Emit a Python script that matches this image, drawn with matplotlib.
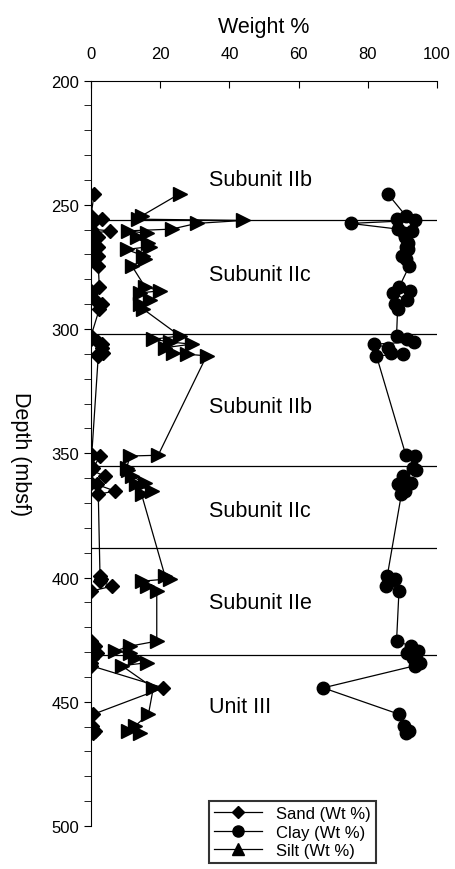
import matplotlib
matplotlib.use('Agg')
from matplotlib import pyplot as plt
from matplotlib.lines import Line2D
from matplotlib.ticker import MultipleLocator

plt.rcParams['font.family'] = ['Liberation Sans', 'DejaVu Sans']

# depth of each sample (mbsf)
depth = [245.5,
         254.5, 255.8, 256.3, 257.5, 259.8, 260.5, 261.5, 263.0, 265.2, 266.8, 268.0, 270.5, 272.0, 274.6,
         283.0, 284.6, 285.5, 288.3, 290.0, 292.0,
         302.8, 304.1, 305.2, 306.1, 307.5, 309.5, 310.1, 310.8,
         350.8, 351.1, 355.8, 356.8, 359.2, 362.1, 362.5, 365.2, 366.5,
         399.5, 400.5, 401.5, 403.5, 405.5,
         425.6, 427.6, 429.6, 430.5, 432.3, 434.3, 435.5,
         444.4, 455.0, 459.8, 461.8, 462.5]

sand = [0.9,
        0.0, 3.1, 0.0, 0.3, 0.0, 5.5, 0.3, 2.1, 0.0, 1.9, 0.0, 2.1, 0.0, 2.1,
        2.4, 0.0, 0.0, 1.2, 3.1, 2.4,
        0.0, 0.0, 1.9, 3.1, 3.1, 3.6, 2.1, 2.1,
        0.2, 2.6, 0.7, 0.0, 4.0, 0.0, 1.6, 6.9, 2.1,
        2.6, 3.0, 2.6, 6.0, 0.0,
        0.0, 1.2, 0.2, 1.6, 0.3, 0.0, 0.0,
        20.9, 0.7, 0.2, 1.2, 0.5]

clay = [85.7,
        91.0, 88.3, 93.6, 75.0, 88.8, 92.7, 90.5, 90.8, 91.5, 91.0, 91.7, 89.8, 91.0, 92.0,
        89.1, 92.2, 87.4, 91.2, 87.9, 88.6,
        88.3, 91.2, 93.2, 81.8, 85.9, 86.7, 90.3, 82.5,
        91.0, 93.6, 93.0, 94.0, 90.3, 92.5, 88.8, 90.6, 89.7,
        85.6, 87.9, 86.5, 85.3, 89.0,
        88.3, 92.5, 94.6, 91.2, 93.0, 95.1, 93.6,
        67.1, 89.0, 90.5, 92.0, 91.0]

silt = [25.7,
        14.6, 13.5, 44.0, 30.5, 23.3, 10.8, 16.1, 13.2, 16.5, 17.1, 10.3, 15.1, 15.5, 11.8,
        15.6, 19.9, 14.2, 17.0, 14.2, 15.1,
        25.7, 18.0, 22.8, 29.1, 21.4, 23.8, 27.6, 33.4,
        19.4, 11.3, 10.3, 10.8, 11.8, 15.6, 13.0, 17.5, 14.6,
        21.4, 22.8, 14.6, 16.1, 19.0,
        19.0, 11.3, 6.9, 11.3, 12.7, 16.1, 8.9,
        18.0, 16.6, 12.7, 10.8, 14.2]

boundaries = [256, 302, 355, 388, 431]
unit_names = ['Subunit IIb', 'Subunit IIc', 'Subunit IIb', 'Subunit IIc', 'Subunit IIe', 'Unit III']
unit_depths = [240, 278, 331, 373, 410, 452]

fig = plt.figure(figsize=(4.56, 8.70), dpi=100)
ax = fig.add_axes([0.1996, 0.0494, 0.7588, 0.8569])

for b in boundaries:
    ax.plot([0, 100], [b, b], color='black', lw=0.9, zorder=1)

ax.plot(sand, depth, '-', color='black', lw=0.9, marker='D', ms=7.5, zorder=3)
ax.plot(clay, depth, '-', color='black', lw=0.9, marker='o', ms=9, zorder=3)
ax.plot(silt, depth, '-', color='black', lw=0.9, marker='>', ms=10, zorder=3)

for name, d in zip(unit_names, unit_depths):
    ax.text(34, d, name, fontsize=15.5, va='center', ha='left')

ax.set_xlim(0, 100)
ax.set_ylim(500, 200)
ax.xaxis.tick_top()
ax.xaxis.set_label_position('top')
ax.set_xticks([0, 20, 40, 60, 80, 100])
ax.set_yticks([200, 250, 300, 350, 400, 450, 500])
ax.yaxis.set_minor_locator(MultipleLocator(10))
ax.tick_params(axis='x', direction='in', length=5, labelsize=12, pad=14)
ax.tick_params(axis='y', which='both', direction='out', length=5, labelsize=12)
ax.spines['right'].set_visible(False)
ax.spines['bottom'].set_visible(False)
ax.set_xlabel('Weight %', fontsize=15.5, labelpad=10)
ax.set_ylabel('Depth (mbsf)', fontsize=15.5, rotation=-90, labelpad=30)

handles = [Line2D([], [], color='black', lw=0.9, marker='D', ms=6),
           Line2D([], [], color='black', lw=0.9, marker='o', ms=8),
           Line2D([], [], color='black', lw=0.9, marker='^', ms=8)]
leg = fig.legend(handles, ['Sand (Wt %)', 'Clay (Wt %)', 'Silt (Wt %)'],
                 loc='center', bbox_to_anchor=(0.641, 0.0425), fontsize=12,
                 frameon=True, fancybox=False, edgecolor='black',
                 handlelength=2.9, labelspacing=0.2, borderpad=0.3)
leg.get_frame().set_linewidth(1.5)

plt.savefig('out.png', dpi=100)
